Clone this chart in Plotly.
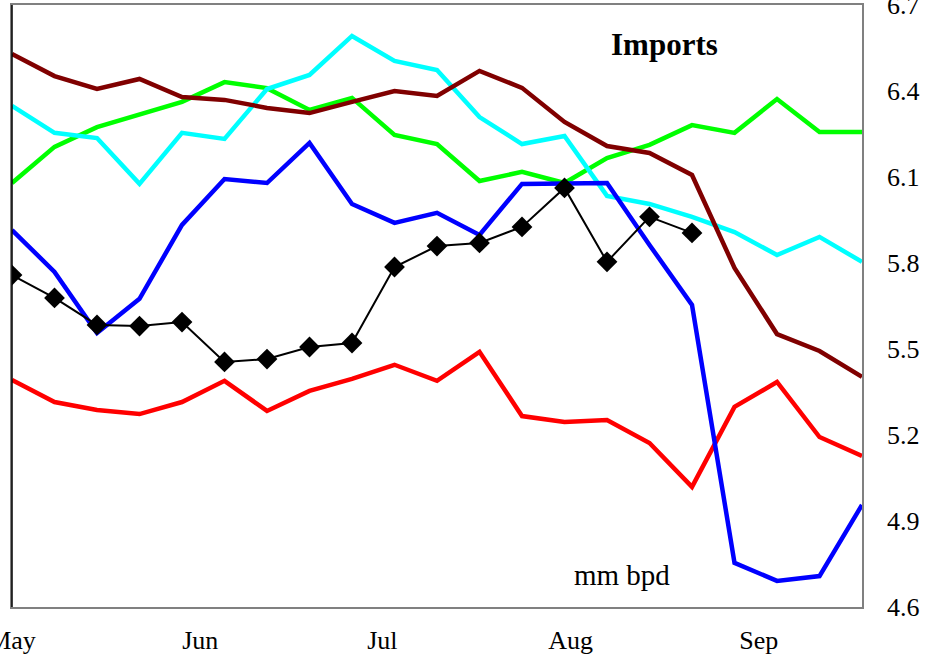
import datetime as dt
import plotly.graph_objects as go

start = dt.date(2008, 5, 1)
dates = [start + dt.timedelta(days=7 * i) for i in range(21)]

green = [6.079, 6.205, 6.274, 6.320, 6.362, 6.431, 6.410, 6.334, 6.376, 6.247, 6.215,
         6.086, 6.118, 6.079, 6.166, 6.212, 6.281, 6.254, 6.372, 6.257, 6.257]
cyan = [6.348, 6.254, 6.236, 6.076, 6.254, 6.233, 6.407, 6.456, 6.592, 6.505, 6.473,
        6.309, 6.215, 6.243, 6.034, 6.006, 5.961, 5.908, 5.828, 5.891, 5.804]
maroon = [6.529, 6.452, 6.407, 6.442, 6.379, 6.369, 6.341, 6.323, 6.362, 6.400, 6.383,
          6.470, 6.411, 6.292, 6.208, 6.184, 6.107, 5.783, 5.552, 5.493, 5.403]
red = [5.392, 5.315, 5.287, 5.273, 5.315, 5.389, 5.284, 5.354, 5.396, 5.445, 5.389,
       5.490, 5.266, 5.245, 5.252, 5.172, 5.019, 5.298, 5.385, 5.193, 5.127]
blue = [5.915, 5.769, 5.556, 5.675, 5.933, 6.093, 6.079, 6.219, 6.006, 5.940, 5.975,
        5.898, 6.076, 6.076, 6.079, 5.863, 5.654, 4.754, 4.691, 4.708, 4.956]
black = [5.758, 5.678, 5.584, 5.580, 5.594, 5.455, 5.465, 5.507, 5.521, 5.786, 5.859,
         5.870, 5.926, 6.062, 5.804, 5.961, 5.905]

y_ticks = [4.6, 4.9, 5.2, 5.5, 5.8, 6.1, 6.4, 6.7]

FONT = "Liberation Serif"

fig = go.Figure()
for vals, col in [(green, "#00ff00"), (cyan, "#00ffff"), (maroon, "#800000"),
                  (red, "#ff0000"), (blue, "#0000ff")]:
    fig.add_trace(go.Scatter(x=dates, y=vals, mode="lines",
                             line=dict(color=col, width=4.5), showlegend=False))
fig.add_trace(go.Scatter(x=dates[:len(black)], y=black, mode="lines+markers",
                         line=dict(color="black", width=2),
                         marker=dict(symbol="diamond", size=16, color="black"),
                         showlegend=False))

fig.update_layout(
    width=940, height=654,
    margin=dict(l=12, r=78, t=5, b=47),
    paper_bgcolor="white", plot_bgcolor="white",
    font=dict(family=FONT, size=26, color="black"),
    xaxis=dict(type="date", range=[dates[0], dates[-1]], dtick="M1",
               tick0="2008-05-01", tickformat="%b", showgrid=False, zeroline=False,
               showline=True, linecolor="#808080", linewidth=1.5, mirror=True,
               ticks="", ticklabelstandoff=9, automargin=False,
               ticklabeloverflow="allow",
               tickfont=dict(family=FONT, size=26)),
    yaxis=dict(side="right", range=[4.6, 6.7], tickvals=y_ticks,
               ticktext=[f"{v:.1f}" for v in y_ticks], showgrid=False,
               zeroline=False, showline=True, linecolor="#808080", linewidth=1.5,
               mirror=True, ticks="", ticklabelstandoff=18, automargin=False,
               ticklabeloverflow="allow",
               tickfont=dict(family=FONT, size=26)),
    shapes=[dict(type="line", xref="paper", yref="paper", x0=0, x1=0, y0=0, y1=1,
                 line=dict(color="black", width=1.5))],
    annotations=[
        dict(text="<b>Imports</b>", xref="paper", yref="paper", x=0.768, y=0.935,
             xanchor="center", yanchor="middle",
             showarrow=False, font=dict(family=FONT, size=31, color="black")),
        dict(text="mm bpd", xref="paper", yref="paper", x=0.718, y=0.053,
             xanchor="center", yanchor="middle",
             showarrow=False, font=dict(family=FONT, size=29, color="black")),
    ],
)

fig.write_html("out.html", config={"displayModeBar": False},
               post_script="document.body.style.margin='0';document.body.style.overflow='hidden';")
